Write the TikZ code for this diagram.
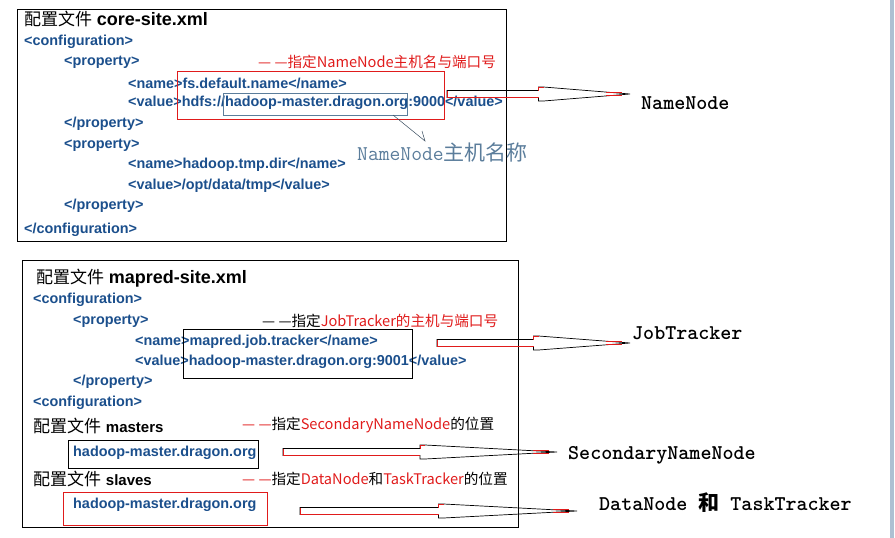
\documentclass[tikz,border=0pt]{standalone}
\usepackage{fontspec}
\setmainfont{Liberation Sans}
\newfontfamily\cjk{Noto Sans CJK SC}
\usetikzlibrary{calc}

\definecolor{xmlblue}{HTML}{1B4F8C}
\definecolor{notered}{HTML}{E01B1B}
\definecolor{hintblue}{HTML}{5B7D9B}
\definecolor{barblue}{HTML}{AEC0D2}

% long flat arrow with a shoulder half way, #1 = tail, #2 = tip
\newcommand{\fatarrow}[2]{%
  \draw[black, line width=0.7pt] let \p1=(#1), \p2=(#2), \p3=($(#1)!0.5!(#2)$) in
    (\x1,\y1+3.5pt) -- (\x3,\y1+3.5pt) -- (\x3,\y1+7pt) -- (\x3+5pt,\y1+7pt)
    -- (\x2,\y2) -- (\x3+5pt,\y1-7pt) -- (\x3,\y1-7pt) -- (\x3,\y1-3.5pt)
    -- (\x1,\y1-3.5pt) -- cycle;
  \draw[notered, line width=0.7pt] let \p1=(#1), \p2=(#2), \p3=($(#1)!0.5!(#2)$) in
    (\x1,\y1+3.5pt) -- (\x1,\y1-3.5pt) -- (\x3,\y1-3.5pt)
    (\x3,\y1+3.5pt) -- (\x3,\y1+7pt) -- (\x3+5pt,\y1+7pt)
    (\x2-24pt,\y2+1.2pt) -- (\x2-8pt,\y2+1.2pt)
    (\x2-24pt,\y2-1.2pt) -- (\x2-8pt,\y2-1.2pt);
}

\begin{document}
\begin{tikzpicture}[
    x=1pt, y=-1pt,
    xml/.style={
        anchor=west,
        inner sep=0pt,
        text=xmlblue,
        font=\fontsize{14.4}{16}\selectfont\bfseries
    },
    filetitle/.style={
        anchor=west,
        inner sep=0pt,
        font=\fontsize{17}{20}\selectfont
    },
    note/.style={
        anchor=west,
        inner sep=0pt,
        text=notered,
        font=\fontsize{14.6}{16}\selectfont\cjk
    },
    role/.style={
        anchor=west,
        inner sep=0pt,
        font=\fontsize{21}{24}\selectfont\ttfamily\bfseries
    },
    filebox/.style={draw=black, line width=0.8pt},
    redbox/.style={draw=notered, line width=0.8pt},
    hostbox/.style={draw=hintblue, line width=0.6pt}
]

\useasboundingbox (0,0) rectangle (895,538);
\fill[barblue] (890,0) rectangle (894,538);

% core-site.xml
\draw[filebox] (17,9) rectangle (506,241);
\node[filetitle] (coretitle) at (24,19) {{\cjk 配置文件} {\fontsize{18}{20}\selectfont\bfseries core-site.xml}};
\node[xml] (coreconf) at (24,42) {<configuration>};
\node[xml] (coreprop) at (64,62) {<property>};
\node[xml] (corename) at (128,83) {<name>fs.default.name</name>};
\node[xml] (corevalue) at (128,103) {<value>hdfs://hadoop-master.dragon.org:9000</value>};
\node[xml] (corepropend) at (64,124) {</property>};
\node[xml] (tmpprop) at (64,145) {<property>};
\node[xml] (tmpname) at (128,165) {<name>hadoop.tmp.dir</name>};
\node[xml] (tmpvalue) at (128,186) {<value>/opt/data/tmp</value>};
\node[xml] (tmppropend) at (64,206) {</property>};
\node[xml] (coreconfend) at (24,230) {</configuration>};

\node[note] (corenote) at (258,62) {— —指定NameNode主机名与端口号};
\draw[redbox] (177,71) rectangle (444,119);
\draw[hostbox] (223,93) rectangle (407,115);

\node[anchor=west, inner sep=0pt, text=hintblue, font=\fontsize{21}{23}\selectfont\ttfamily]
    (hostlabel) at (357,152) {NameNode{\cjk 主机名称}};
\coordinate (hostfrom) at (393,115);
\coordinate (hostto) at (425,141);
\draw[hintblue!60!black, line width=0.5pt] (hostfrom) -- (hostto) -- ++(-3,-10);

% mapred-site.xml, masters, slaves
\draw[filebox] (22,260) rectangle (518,527);
\node[filetitle] (mapredtitle) at (36,278) {{\cjk 配置文件} {\fontsize{18}{20}\selectfont\bfseries mapred-site.xml}};
\node[xml] (mapredconf) at (33,300) {<configuration>};
\node[xml] (mapredprop) at (73,321) {<property>};
\node[xml] (mapredname) at (135,342) {<name>mapred.job.tracker</name>};
\node[xml] (mapredvalue) at (135,362) {<value>hadoop-master.dragon.org:9001</value>};
\node[xml] (mapredpropend) at (73,382) {</property>};
\node[xml] (mapredconfend) at (33,403) {<configuration>};
\draw[filebox] (183,329) rectangle (412,378);

\node[note] (mapednote) at (262,321) {{\color{black}— —指定}JobTracker的主机与端口号};

\node[filetitle] (masterstitle) at (33,426) {{\cjk 配置文件} {\fontsize{15}{18}\selectfont\bfseries masters}};
\node[xml] (mastershost) at (73,453) {hadoop-master.dragon.org};
\draw[filebox] (68,440) rectangle (258,468);
\node[note] (mastersnote) at (242,425) {— —{\color{black}指定}SecondaryNameNode{\color{black}的位置}};

\node[filetitle] (slavestitle) at (33,479) {{\cjk 配置文件} {\fontsize{15}{18}\selectfont\bfseries slaves}};
\node[xml] (slaveshost) at (73,505) {hadoop-master.dragon.org};
\draw[redbox] (63,492) rectangle (267,525);
\node[note] (slavesnote) at (242,479) {— —{\color{black}指定}DataNode{\color{black}和}TaskTracker{\color{black}的位置}};

% roles
\node[role] (namenode) at (641,103) {NameNode};
\node[role] (jobtracker) at (632,333) {JobTracker};
\node[role] (secnamenode) at (568,455) {SecondaryNameNode};
\node[role] (datanode) at (599,503) {DataNode {\cjk 和} TaskTracker};

\coordinate (nnfrom) at (447,94);
\coordinate (nnto) at (630,94);
\coordinate (jtfrom) at (437,343);
\coordinate (jtto) at (630,343);
\coordinate (snfrom) at (283,452);
\coordinate (snto) at (557,452);
\coordinate (dnfrom) at (300,511);
\coordinate (dnto) at (577,511);

\fatarrow{nnfrom}{nnto}
\fatarrow{jtfrom}{jtto}
\fatarrow{snfrom}{snto}
\fatarrow{dnfrom}{dnto}

\end{tikzpicture}
\end{document}
